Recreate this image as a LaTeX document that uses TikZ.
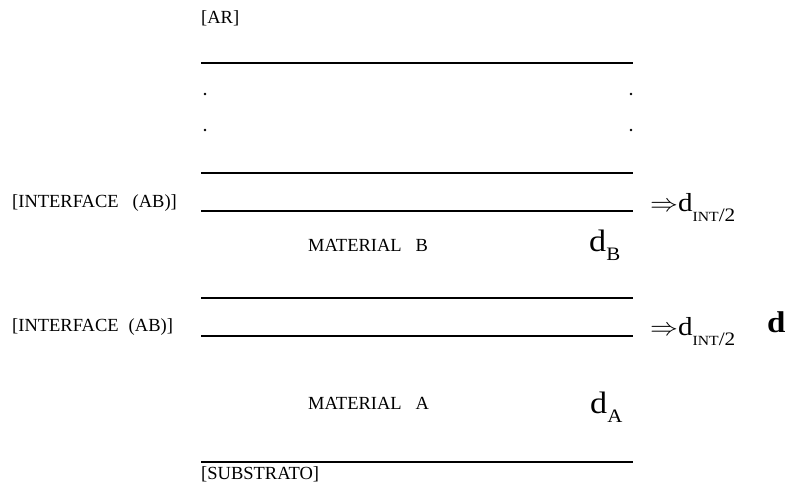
\documentclass[tikz,border=0pt]{standalone}
\usepackage{fontspec}
\setmainfont{Liberation Serif}
\newfontfamily\widefont[FakeStretch=1.1]{Liberation Serif}
\begin{document}
\begin{tikzpicture}[x=1pt,y=-1pt,
  layer/.style={line width=1.4pt},
  tag/.style={anchor=base west,inner sep=0pt,font=\fontsize{18.5}{20}\selectfont},
  thick/.style={anchor=base west,inner sep=0pt,font=\fontsize{31}{33}\widefont},
  half/.style={anchor=base west,inner sep=0pt,font=\fontsize{26}{28}\selectfont},
  total/.style={anchor=base west,inner sep=0pt,font=\fontsize{30}{32}\widefont\bfseries},
  dot/.style={fill=black,draw=none}]
\useasboundingbox (0,0) rectangle (786,484);

% layer boundaries
\draw[layer] (201,63) -- (633,63);
\draw[layer] (201,173) -- (633,173);
\draw[layer] (201,211) -- (633,211);
\draw[layer] (201,298) -- (633,298);
\draw[layer] (201,336) -- (633,336);
\draw[layer] (201,462) -- (633,462);

% omitted layers
\foreach \yy in {94,130}{
  \fill[dot] (205,\yy) circle (1.3);
  \fill[dot] (631,\yy) circle (1.3);
}

% labels
\node[tag] (ar) at (201,24) {[AR]};
\node[tag] (ifb) at (12,207) {[INTERFACE\hspace{14pt}(AB)]};
\node[tag] (ifa) at (12,331) {[INTERFACE\hspace{10pt}(AB)]};
\node[tag] (matb) at (308,251) {MATERIAL\hspace{14pt}B};
\node[tag] (mata) at (308,409) {MATERIAL\hspace{14pt}A};
\node[tag] (sub) at (201,479) {[SUBSTRATO]};

% thicknesses
\newcommand\sbs[1]{\raisebox{-0.32em}{\fontsize{19}{20}\selectfont #1}}
\newcommand\hint{\scalebox{1.12}[1]{$\Rightarrow$d\raisebox{-0.4em}{\fontsize{14}{15}\selectfont INT\fontsize{19}{20}\selectfont/2}}}
\node[thick] (db) at (589,251) {d\sbs{B}};
\node[thick] (da) at (590,413) {d\sbs{A}};
\node[half] (hib) at (650,211) {\hint};
\node[half] (hia) at (650,335) {\hint};
\node[total] (dt) at (767,332) {d};
\end{tikzpicture}
\end{document}
